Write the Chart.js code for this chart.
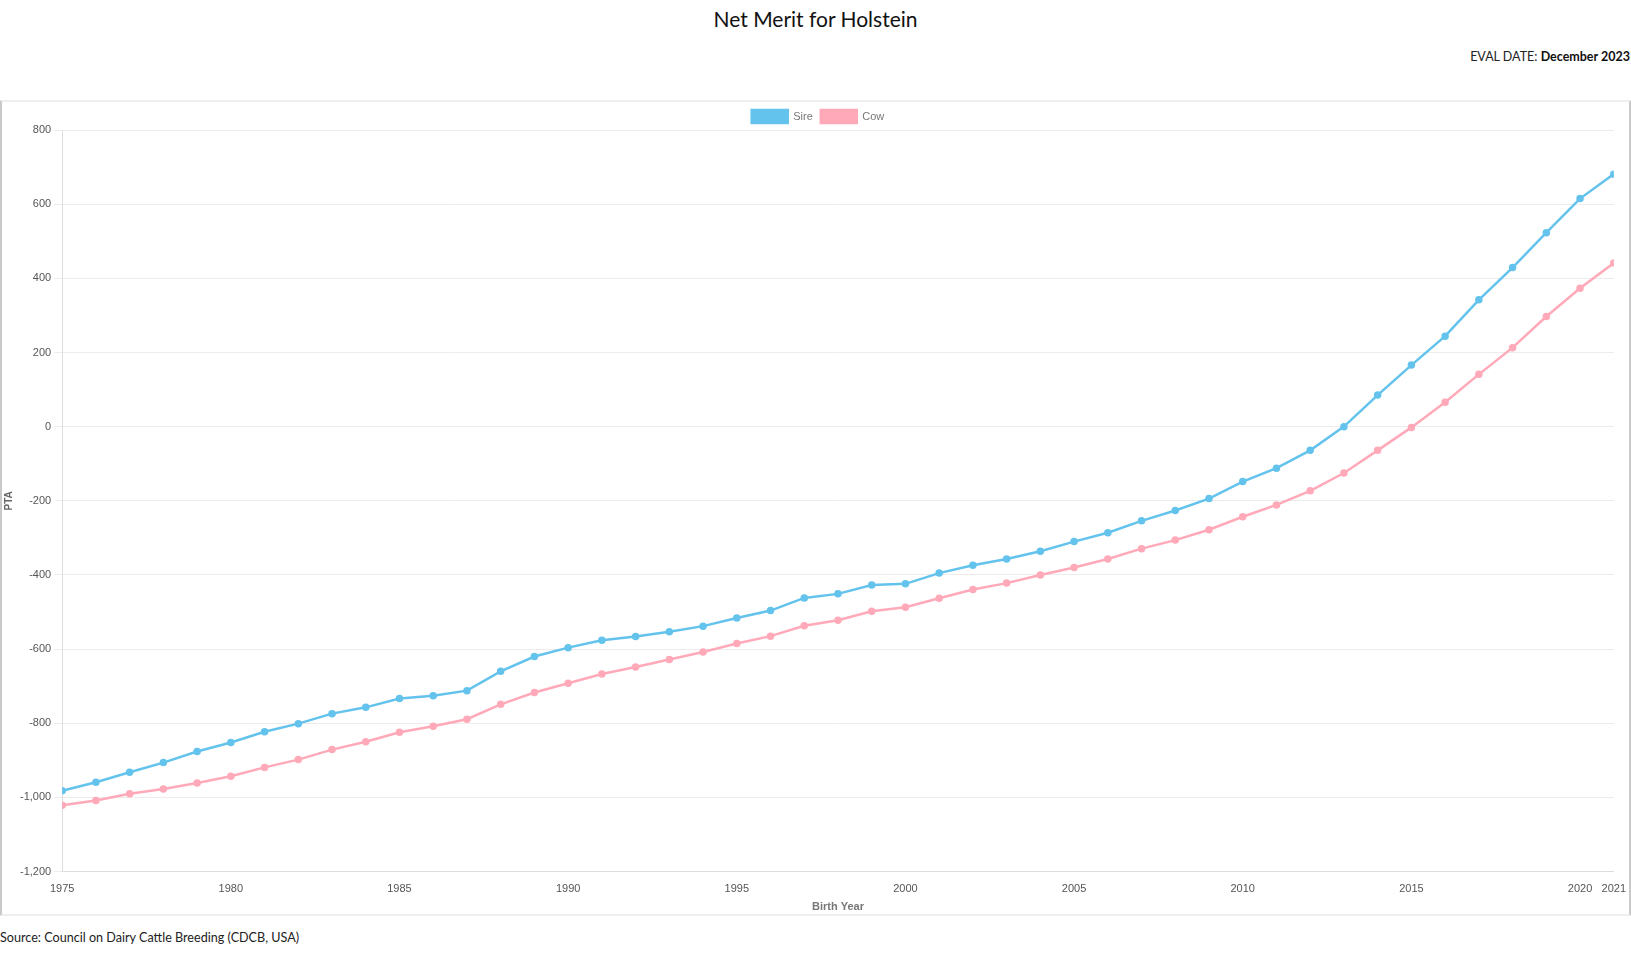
<!DOCTYPE html>
<html>
<head>
    <title>Net Merit for Holstein</title>
    <script src="https://cdn.jsdelivr.net/npm/chart.js"></script>
    <style>
        body { margin: 0; background: #fff; width: 1631px; height: 967px; position: relative; overflow: hidden; }
        #title { position: absolute; top: 6px; left: 0; width: 1631px; text-align: center; font: 21px Lato, sans-serif; color: #111; }
        #evalDate { position: absolute; top: 49px; right: 1px; font: 12.5px Lato, sans-serif; color: #222; }
        #evalDate b { font-weight: 700; color: #111; }
        #box { position: absolute; left: 0; top: 100px; width: 1631px; height: 816px; box-sizing: border-box;
               border-left: 2px solid #c9c9c9; border-right: 2px solid #c9c9c9;
               border-top: 2px solid #eeeeee; border-bottom: 2px solid #eeeeee; }
        #wrap { position: relative; width: 100%; height: 100%; }
        #source { position: absolute; top: 930px; left: 0; font: 12.6px Lato, sans-serif; color: #222; }
    </style>
</head>
<body>
    <div id="title">Net Merit for Holstein</div>
    <div id="evalDate">EVAL DATE: <b>December 2023</b></div>
    <div id="box"><div id="wrap"><canvas id="myChart"></canvas></div></div>
    <div id="source">Source: Council on Dairy Cattle Breeding (CDCB, USA)</div>
    <script>
        const years = [1975, 1976, 1977, 1978, 1979, 1980, 1981, 1982, 1983, 1984,
                       1985, 1986, 1987, 1988, 1989, 1990, 1991, 1992, 1993, 1994,
                       1995, 1996, 1997, 1998, 1999, 2000, 2001, 2002, 2003, 2004,
                       2005, 2006, 2007, 2008, 2009, 2010, 2011, 2012, 2013, 2014,
                       2015, 2016, 2017, 2018, 2019, 2020, 2021];

        const sire = [-982, -959, -932, -906, -876, -852, -823, -801, -774, -757,
                      -733, -726, -712, -660, -620, -596, -576, -566, -553, -538,
                      -516, -496, -462, -451, -427, -424, -395, -374, -357, -336,
                      -310, -286, -254, -226, -194, -148, -112, -64, 0, 85,
                      166, 244, 342, 429, 523, 615, 681];

        const cow = [-1021, -1008, -990, -977, -961, -943, -919, -898, -871, -850,
                     -824, -808, -789, -749, -717, -692, -667, -648, -628, -608,
                     -585, -565, -537, -522, -498, -487, -463, -439, -422, -400,
                     -380, -357, -329, -306, -278, -243, -211, -173, -125, -64,
                     -2, 66, 141, 213, 297, 373, 441];

        const xTicks = [1975, 1980, 1985, 1990, 1995, 2000, 2005, 2010, 2015, 2020, 2021];

        const sireColor = '#63c3ec';
        const cowColor = '#ffa9b9';

        // keep the legend short so the plot starts right under it
        const legendHeight = {
            id: 'legendHeight',
            beforeInit(chart) {
                const fit = chart.legend.fit;
                chart.legend.fit = function () {
                    fit.call(this);
                    this.height = 28;
                };
            }
        };

        const ctx = document.getElementById('myChart').getContext('2d');
        const myChart = new Chart(ctx, {
            type: 'line',
            data: {
                datasets: [{
                    label: 'Sire',
                    data: years.map((yr, i) => ({ x: yr, y: sire[i] })),
                    borderColor: sireColor,
                    backgroundColor: sireColor,
                    borderWidth: 2.5,
                    pointRadius: 2.5,
                    tension: 0
                }, {
                    label: 'Cow',
                    data: years.map((yr, i) => ({ x: yr, y: cow[i] })),
                    borderColor: cowColor,
                    backgroundColor: cowColor,
                    borderWidth: 2.5,
                    pointRadius: 2.5,
                    tension: 0
                }]
            },
            options: {
                responsive: true,
                maintainAspectRatio: false,
                animation: false,
                locale: 'en-US',
                layout: { padding: { left: -1, right: -6 } },
                plugins: {
                    legend: {
                        labels: {
                            boxWidth: 36,
                            boxHeight: 13,
                            padding: 8,
                            color: '#777',
                            font: { size: 11 }
                        }
                    },
                    tooltip: { enabled: false }
                },
                scales: {
                    x: {
                        type: 'linear',
                        min: 1975,
                        max: 2021,
                        afterBuildTicks: scale => {
                            scale.ticks = xTicks.map(v => ({ value: v }));
                        },
                        ticks: {
                            autoSkip: false,
                            maxRotation: 0,
                            color: '#555',
                            font: { size: 11 },
                            callback: v => String(v)
                        },
                        grid: { display: false },
                        border: { color: '#dddddd' },
                        title: {
                            display: true,
                            text: 'Birth Year',
                            color: '#777',
                            font: { size: 11, weight: 'bold' },
                            padding: { top: 2, bottom: 0 }
                        }
                    },
                    y: {
                        min: -1200,
                        max: 800,
                        ticks: {
                            stepSize: 200,
                            color: '#555',
                            font: { size: 11 }
                        },
                        grid: { color: '#ececec' },
                        border: { color: '#dddddd' },
                        title: {
                            display: true,
                            text: 'PTA',
                            color: '#666',
                            font: { size: 10, weight: 'bold' },
                            padding: { top: 2, bottom: 2 }
                        }
                    }
                }
            },
            plugins: [legendHeight]
        });
    </script>
</body>
</html>
